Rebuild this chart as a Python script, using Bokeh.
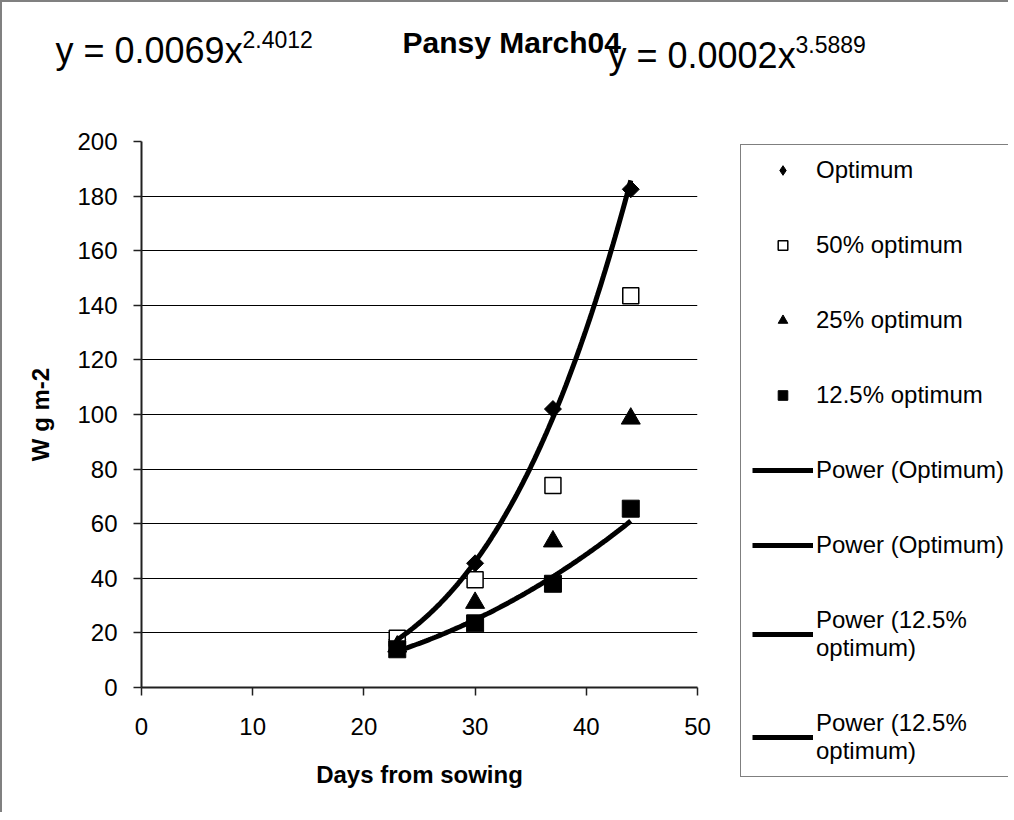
import numpy as np
from bokeh.plotting import figure
from bokeh.layouts import column, row
from bokeh.models import Legend, LegendItem, Label, FixedTicker, Range1d
from bokeh.embed import file_html
from bokeh.resources import INLINE

# ---------------- data ----------------
days = [23, 30, 37, 44]
optimum = [17.5, 45.5, 102, 182.5]
opt_50 = [18, 39.5, 74, 143.5]
opt_25 = [15, 31, 53.5, 98.5]
opt_125 = [14, 23.5, 38, 65.5]

x_ticks = [0, 10, 20, 30, 40, 50]
y_ticks = [0, 20, 40, 60, 80, 100, 120, 140, 160, 180, 200]

title_text = "Pansy March04"
eq_left_main, eq_left_sup = "y = 0.0069x", "2.4012"
eq_right_main, eq_right_sup = "y = 0.0002x", "3.5889"
x_title = "Days from sowing"
y_title = "W g m-2"
legend_labels = ["Optimum", "50% optimum", "25% optimum", "12.5% optimum",
                 "Power (Optimum)", "Power (Optimum)",
                 "Power (12.5%\noptimum)", "Power (12.5%\noptimum)"]

FONT = "Liberation Sans"


def power_fit(x, y):
    b, ln_a = np.polyfit(np.log(x), np.log(y), 1)
    xs = np.linspace(min(x), max(x), 120)
    return xs, np.exp(ln_a) * xs ** b


def draw_series(fig, for_legend=False):
    if for_legend:
        r_opt = fig.scatter(days, optimum, marker="diamond", size=16,
                            fill_color="black", line_color="black")
    else:
        r_opt = fig.scatter(days, optimum, marker="square", angle=np.pi / 4, size=12,
                            fill_color="black", line_color="black")
    r_50 = fig.scatter(days, opt_50, marker="square", size=16,
                       fill_color="white", line_color="black", line_width=1.5)
    r_25 = fig.scatter(days, opt_25, marker="triangle", size=19,
                       fill_color="black", line_color="black")
    r_125 = fig.scatter(days, opt_125, marker="square", size=17,
                        fill_color="black", line_color="black")
    fx, fy = power_fit(days, optimum)
    r_t_opt = fig.line(fx, fy, line_color="black", line_width=5)
    fx2, fy2 = power_fit(days, opt_125)
    r_t_125 = fig.line(fx2, fy2, line_color="black", line_width=5)
    return [r_opt, r_50, r_25, r_125, r_t_opt, r_t_opt, r_t_125, r_t_125]


def blank_fig(w, h, xr, yr):
    f = figure(width=w, height=h, frame_width=w, frame_height=h,
               x_range=xr, y_range=yr, title=None,
               x_axis_type=None, y_axis_type=None, min_border=0,
               output_backend="svg", toolbar_location=None)
    f.outline_line_color = None
    f.background_fill_color = "white"
    f.border_fill_color = "white"
    return f


# ---------------- header with title and equations ----------------
HW, HH = 1006, 100
head = blank_fig(HW, HH, Range1d(0, HW), Range1d(0, HH))


def add_text(txt, px, py, size, bold=False):
    # px, py: approximate page pixel position of the text's left/baseline
    head.add_layout(Label(x=px - 2, y=115 - py, text=txt, text_font=FONT,
                          text_font_size=size, text_color="black",
                          text_font_style="bold" if bold else "normal",
                          text_align="left", text_baseline="alphabetic"))


add_text(eq_left_main, 55, 63, "36px")
add_text(eq_left_sup, 242, 52, "23px")
add_text(title_text, 402, 55, "30px", bold=True)
add_text(eq_right_main, 608, 68, "36px")
add_text(eq_right_sup, 795, 57, "23px")

# ---------------- main chart ----------------
p = figure(width=733, height=710, frame_width=556, frame_height=546, title=None,
           min_border_left=139, min_border_top=39,
           min_border_right=38, min_border_bottom=125,
           x_range=Range1d(0, 50), y_range=Range1d(0, 200),
           output_backend="svg", toolbar_location=None)
p.outline_line_color = None
p.background_fill_color = "white"
p.border_fill_color = "white"

p.xgrid.grid_line_color = None
p.ygrid.grid_line_color = "black"
p.ygrid.grid_line_width = 1
p.ygrid.ticker = FixedTicker(ticks=y_ticks)

p.xaxis.ticker = FixedTicker(ticks=x_ticks)
p.yaxis.ticker = FixedTicker(ticks=y_ticks)
for ax in (p.xaxis[0], p.yaxis[0]):
    ax.axis_line_color = "#202020"
    ax.axis_line_width = 2
    ax.major_tick_line_color = "#202020"
    ax.major_tick_line_width = 1.5
    ax.major_tick_out = 8
    ax.major_tick_in = 0
    ax.minor_tick_out = 0
    ax.minor_tick_in = 0
    ax.major_label_text_font = FONT
    ax.major_label_text_font_size = "24px"
    ax.major_label_text_color = "black"
    ax.axis_label_text_font = FONT
    ax.axis_label_text_font_size = "24px"
    ax.axis_label_text_font_style = "bold"
    ax.axis_label_text_color = "black"
p.xaxis.axis_label = x_title
p.yaxis.axis_label = y_title
p.xaxis.major_label_standoff = 22
p.yaxis.major_label_standoff = 16
p.xaxis.axis_label_standoff = 23
p.yaxis.axis_label_standoff = 20

draw_series(p)

# ---------------- legend panel ----------------
LW, LH = 273, 710
lf = blank_fig(LW, LH, Range1d(-1000, -999), Range1d(-1000, -999))
leg_renderers = draw_series(lf, for_legend=True)

items = [LegendItem(label=lab, renderers=[r]) for lab, r in zip(legend_labels, leg_renderers)]
legend = Legend(items=items, location=(5, 35),
                label_text_font=FONT, label_text_font_size="24px",
                label_text_color="black",
                glyph_width=61, glyph_height=24, label_standoff=3,
                spacing=47, padding=11, margin=0, label_height=28,
                border_line_color="black", border_line_width=1,
                background_fill_color="white", background_fill_alpha=1)
lf.add_layout(legend)

layout = column(head, row(p, column(lf, spacing=0), spacing=0), spacing=0,
                styles={"border-left": "2px solid #808080", "border-top": "2px solid #808080"})

open("out.html", "w").write(file_html(layout, INLINE))
